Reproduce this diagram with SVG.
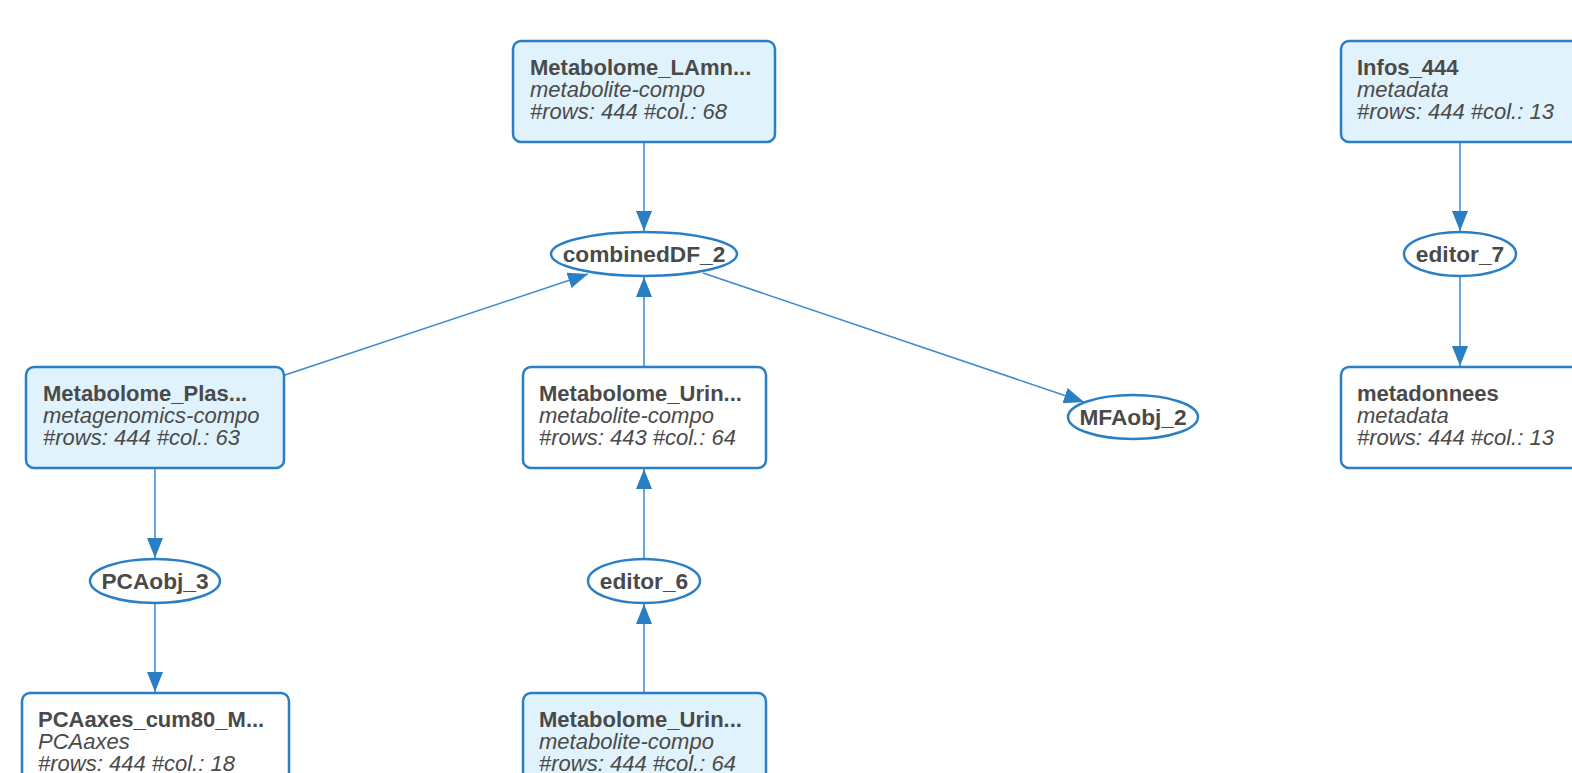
<svg xmlns="http://www.w3.org/2000/svg" width="1572" height="773" viewBox="0 0 1572 773">
<defs>
<marker id="arr" viewBox="0 0 20 16" refX="20" refY="8" markerWidth="20" markerHeight="16" markerUnits="userSpaceOnUse" orient="auto">
<path d="M0,0 L20,8 L0,16 z" fill="#2a7ec3"/>
</marker>
<style>
.box{stroke:#2a7ec3;stroke-width:2.5}
.src{fill:#e0f2fc}
.plain{fill:#ffffff}
.ell{fill:#ffffff;stroke:#2a7ec3;stroke-width:2.5}
.edge{stroke:#3a8ad0;stroke-width:1.5;fill:none;marker-end:url(#arr)}
text{font-family:"Liberation Sans",Arial,sans-serif;font-size:22px;fill:#4a4a4a}
.t{font-weight:bold}
.i{font-style:italic}
.c{text-anchor:middle;font-weight:bold;font-size:22.7px}
</style>
</defs>
<rect width="1572" height="773" fill="#ffffff"/>
<g id="edges">
<line class="edge" x1="644" y1="143" x2="644" y2="231"/>
<line class="edge" x1="285" y1="375" x2="588" y2="274"/>
<line class="edge" x1="644" y1="366" x2="644" y2="277"/>
<line class="edge" x1="703" y1="273" x2="1084" y2="402"/>
<line class="edge" x1="155" y1="469" x2="155" y2="558"/>
<line class="edge" x1="155" y1="604" x2="155" y2="692"/>
<line class="edge" x1="644" y1="558" x2="644" y2="469"/>
<line class="edge" x1="644" y1="692" x2="644" y2="604"/>
<line class="edge" x1="1460" y1="143" x2="1460" y2="231"/>
<line class="edge" x1="1460" y1="277" x2="1460" y2="366"/>
</g>
<g id="Metabolome_LAmn">
<rect class="box src" x="513" y="41" width="262" height="101" rx="8"/>
<text class="t" x="530" y="75">Metabolome_LAmn...</text>
<text class="i" x="530" y="97">metabolite-compo</text>
<text class="i" x="530" y="119">#rows: 444 #col.: 68</text>
</g>
<g id="combinedDF_2">
<ellipse class="ell" cx="644" cy="254" rx="93" ry="22"/>
<text class="c" x="644" y="262">combinedDF_2</text>
</g>
<g id="Metabolome_Plas">
<rect class="box src" x="26" y="367" width="258" height="101" rx="8"/>
<text class="t" x="43" y="401">Metabolome_Plas...</text>
<text class="i" x="43" y="423">metagenomics-compo</text>
<text class="i" x="43" y="445">#rows: 444 #col.: 63</text>
</g>
<g id="Metabolome_Urin_mid">
<rect class="box plain" x="523" y="367" width="243" height="101" rx="8"/>
<text class="t" x="539" y="401">Metabolome_Urin...</text>
<text class="i" x="539" y="423">metabolite-compo</text>
<text class="i" x="539" y="445">#rows: 443 #col.: 64</text>
</g>
<g id="MFAobj_2">
<ellipse class="ell" cx="1133" cy="417" rx="65" ry="22"/>
<text class="c" x="1133" y="425">MFAobj_2</text>
</g>
<g id="PCAobj_3">
<ellipse class="ell" cx="155" cy="581" rx="65" ry="22"/>
<text class="c" x="155" y="589">PCAobj_3</text>
</g>
<g id="editor_6">
<ellipse class="ell" cx="644" cy="581" rx="56" ry="22"/>
<text class="c" x="644" y="589">editor_6</text>
</g>
<g id="PCAaxes_cum80">
<rect class="box plain" x="22" y="693" width="267" height="101" rx="8"/>
<text class="t" x="38" y="727">PCAaxes_cum80_M...</text>
<text class="i" x="38" y="749">PCAaxes</text>
<text class="i" x="38" y="771">#rows: 444 #col.: 18</text>
</g>
<g id="Metabolome_Urin_bottom">
<rect class="box src" x="523" y="693" width="243" height="101" rx="8"/>
<text class="t" x="539" y="727">Metabolome_Urin...</text>
<text class="i" x="539" y="749">metabolite-compo</text>
<text class="i" x="539" y="771">#rows: 444 #col.: 64</text>
</g>
<g id="Infos_444">
<rect class="box src" x="1341" y="41" width="262" height="101" rx="8"/>
<text class="t" x="1357" y="75">Infos_444</text>
<text class="i" x="1357" y="97">metadata</text>
<text class="i" x="1357" y="119">#rows: 444 #col.: 13</text>
</g>
<g id="editor_7">
<ellipse class="ell" cx="1460" cy="254" rx="56" ry="22"/>
<text class="c" x="1460" y="262">editor_7</text>
</g>
<g id="metadonnees">
<rect class="box plain" x="1341" y="367" width="262" height="101" rx="8"/>
<text class="t" x="1357" y="401">metadonnees</text>
<text class="i" x="1357" y="423">metadata</text>
<text class="i" x="1357" y="445">#rows: 444 #col.: 13</text>
</g>
</svg>
